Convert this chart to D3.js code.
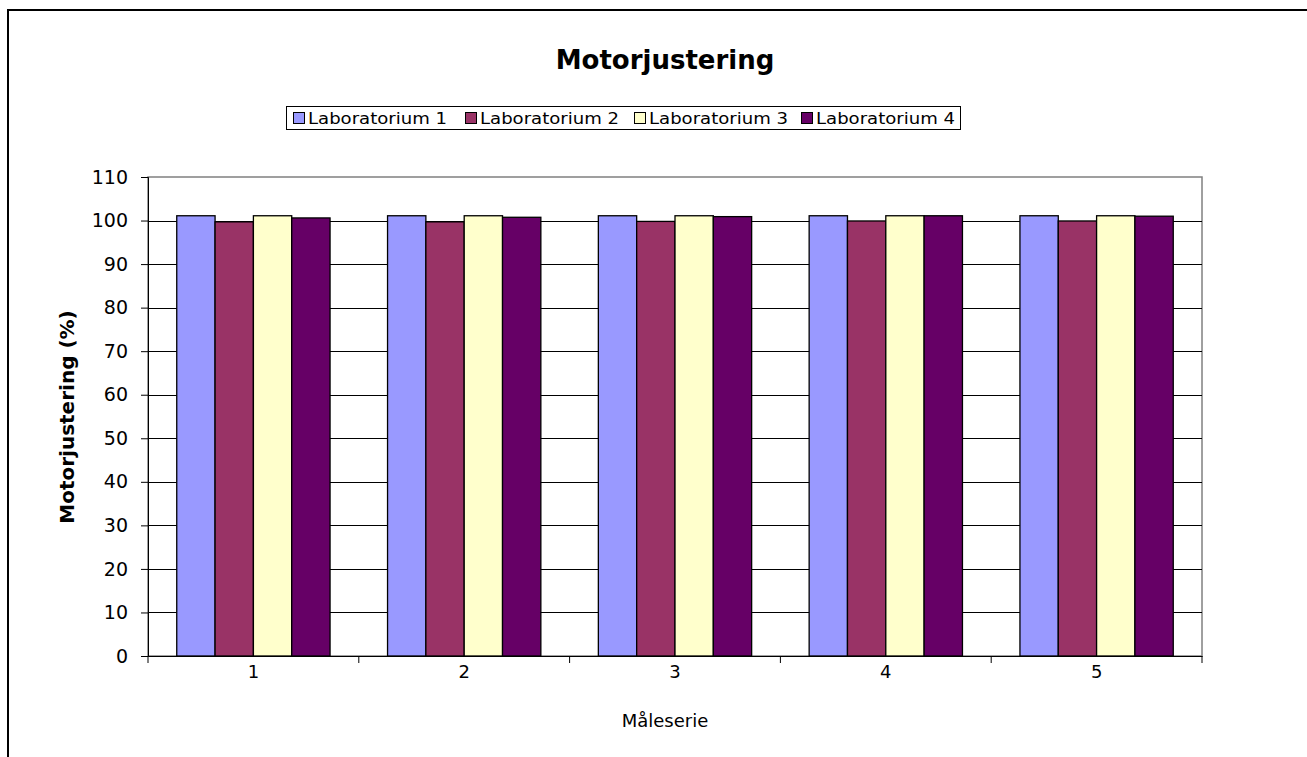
<!DOCTYPE html>
<html><head><meta charset="utf-8">
<script src="https://cdn.jsdelivr.net/npm/d3@7"></script>
<style>body{margin:0;background:#fff}svg{display:block}</style>
</head><body><svg id="c" width="1307" height="757"></svg>
<script>
const categories = ["1","2","3","4","5"];
const seriesNames = ["Laboratorium 1","Laboratorium 2","Laboratorium 3","Laboratorium 4"];
const lab1 = [101.1,101.1,101.1,101.1,101.1];
const lab2 = [99.7,99.7,99.8,99.9,99.9];
const lab3 = [101.1,101.1,101.1,101.1,101.1];
const lab4 = [100.6,100.75,100.9,101.1,101.0];
const colors = ["#9999FF","#993366","#FFFFCC","#660066"];
const yTicks = [0,10,20,30,40,50,60,70,80,90,100,110];

const series = [lab1,lab2,lab3,lab4];
const svg = d3.select("#c");
const F = "'DejaVu Sans', Verdana, sans-serif";

// outer chart border
svg.append("rect").attr("x",8).attr("y",10).attr("width",1400).attr("height",800)
  .attr("fill","#fff").attr("stroke","#000").attr("stroke-width",2);

const L=148,R=1202,T=177,B=656;
const x0 = d3.scaleBand().domain(categories).range([L,R]).paddingInner(0).paddingOuter(0);
const y = d3.scaleLinear().domain([0,110]).range([B,T]);
const groupW = x0.bandwidth();
const barW = groupW/(4+1.5);

// plot area border
svg.append("rect").attr("x",L).attr("y",T).attr("width",R-L).attr("height",B-T)
  .attr("fill","#fff").attr("stroke","#808080").attr("stroke-width",1.5);

// gridlines
svg.append("g").selectAll("line").data(yTicks.filter(d=>d>0&&d<110)).join("line")
  .attr("x1",L).attr("x2",R).attr("y1",d=>Math.round(y(d))+0.5).attr("y2",d=>Math.round(y(d))+0.5)
  .attr("stroke","#000").attr("stroke-width",1);

// bars
const g = svg.append("g");
categories.forEach((c,i)=>{
  series.forEach((s,j)=>{
    const bx = x0(c) + barW*0.75 + j*barW;
    g.append("rect").attr("x",bx).attr("y",y(s[i])).attr("width",barW).attr("height",B-y(s[i]))
      .attr("fill",colors[j]).attr("stroke","#000").attr("stroke-width",1.3);
  });
});

// y axis
const ya = svg.append("g").attr("transform",`translate(${L},0)`)
  .call(d3.axisLeft(y).tickValues(yTicks).tickSize(7).tickPadding(13));
ya.select(".domain").attr("stroke","#000");
ya.selectAll("text").attr("font-family",F).attr("font-size",19).attr("fill","#000");

// x axis
const xa = svg.append("g").attr("transform",`translate(0,${B})`)
  .call(d3.axisBottom(x0).tickSize(0).tickPadding(9));
xa.select(".domain").attr("stroke","#000");
xa.selectAll("text").attr("font-family",F).attr("font-size",18).attr("fill","#000");
svg.append("g").selectAll("line").data(d3.range(categories.length+1)).join("line")
  .attr("x1",d=>L+d*groupW).attr("x2",d=>L+d*groupW).attr("y1",B).attr("y2",B+7).attr("stroke","#000");

// titles
svg.append("text").attr("x",665).attr("y",69).attr("text-anchor","middle")
  .attr("font-family",F).attr("font-weight","bold").attr("font-size",26).text("Motorjustering");
svg.append("text").attr("transform","translate(74,417) rotate(-90)").attr("text-anchor","middle")
  .attr("font-family",F).attr("font-weight","bold").attr("font-size",20).text("Motorjustering (%)");
svg.append("text").attr("x",665).attr("y",727).attr("text-anchor","middle")
  .attr("font-family",F).attr("font-size",18).text("Måleserie");

// legend
const lg = svg.append("g");
lg.append("rect").attr("x",286.5).attr("y",106.5).attr("width",674).attr("height",23)
  .attr("fill","#fff").attr("stroke","#000");
const itemX = [293,465,634,801];
seriesNames.forEach((n,j)=>{
  lg.append("rect").attr("x",itemX[j]+0.5).attr("y",112.5).attr("width",11).attr("height",11)
    .attr("fill",colors[j]).attr("stroke","#000");
  lg.append("text").attr("x",itemX[j]+15).attr("y",124).attr("font-family",F).attr("font-size",16)
    .attr("textLength",139).attr("lengthAdjust","spacingAndGlyphs").text(n);
});
</script></body></html>
